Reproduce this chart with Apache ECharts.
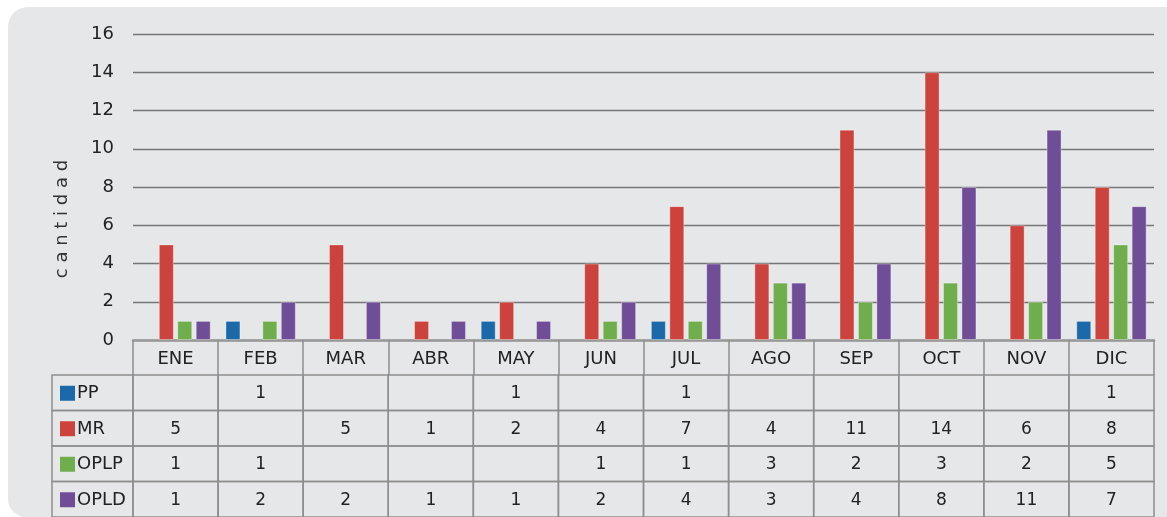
<!DOCTYPE html>
<html>
<head>
<meta charset="utf-8">
<script src="https://cdn.jsdelivr.net/npm/echarts@6/dist/echarts.min.js"></script>
<style>
  html, body { margin: 0; padding: 0; background: #fff; }
  #main { width: 1167px; height: 517px; }
</style>
</head>
<body>
<div id="main"></div>
<script>
// meses
var months = ['ENE', 'FEB', 'MAR', 'ABR', 'MAY', 'JUN', 'JUL', 'AGO', 'SEP', 'OCT', 'NOV', 'DIC']
// series (null = celda vacía)
var seriesNames = ['PP', 'MR', 'OPLP', 'OPLD']
var ppData = [null, 1, null, null, 1, null, 1, null, null, null, null, 1]
var mrData = [5, null, 5, 1, 2, 4, 7, 4, 11, 14, 6, 8]
var oplpData = [1, 1, null, null, null, 1, 1, 3, 2, 3, 2, 5]
var opldData = [1, 2, 2, 1, 1, 2, 4, 3, 4, 8, 11, 7]
var colors = ['#1b69a8', '#cc423c', '#70ad4c', '#6f4e97']
var yTicks = [0, 2, 4, 6, 8, 10, 12, 14, 16]

var allData = [ppData, mrData, oplpData, opldData]
var font = '"DejaVu Sans", sans-serif'
var lineColor = '#8e8e8e'

var myChart = echarts.init(document.getElementById('main'))

// celdas de la tabla
var cells = []
for (var r = 0; r < seriesNames.length; r++) {
  for (var c = 0; c < months.length; c++) {
    cells.push([c, r])
  }
}

function renderCell(params, api) {
  var c = api.value(0)
  var r = api.value(1)
  var center = api.coord([c, r])
  var size = api.size([1, 1])
  var w = size[0]
  var h = size[1]
  var v = allData[r][c]
  var children = [{
    type: 'rect',
    shape: { x: center[0] - w / 2, y: center[1] - h / 2, width: w, height: h },
    style: { fill: 'none', stroke: lineColor, lineWidth: 1.5 }
  }, {
    type: 'text',
    style: {
      x: center[0], y: center[1] + 1,
      text: v == null ? '' : String(v),
      align: 'center', verticalAlign: 'middle',
      font: '17px ' + font, fill: '#222'
    }
  }]
  if (c === 0) {
    // columna de leyenda
    var left = 52
    var x0 = center[0] - w / 2
    children.push({
      type: 'rect',
      shape: { x: left, y: center[1] - h / 2, width: x0 - left, height: h },
      style: { fill: 'none', stroke: lineColor, lineWidth: 1.5 }
    }, {
      type: 'rect',
      shape: { x: left + 8, y: center[1] - 7, width: 15, height: 15 },
      style: { fill: colors[r] }
    }, {
      type: 'text',
      style: {
        x: left + 25, y: center[1] + 1,
        text: seriesNames[r],
        align: 'left', verticalAlign: 'middle',
        font: '18px ' + font, fill: '#222'
      }
    })
  }
  return { type: 'group', children: children }
}

var barSeries = seriesNames.map(function(name, i) {
  return {
    name: name,
    type: 'bar',
    xAxisIndex: 0,
    yAxisIndex: 0,
    data: allData[i],
    barWidth: 15,
    barGap: '23%',
    itemStyle: {
      color: colors[i],
      borderColor: 'rgba(255,255,255,0.35)',
      borderWidth: 1
    }
  }
})

var option = {
  animation: false,
  textStyle: { fontFamily: font },
  graphic: [{
    type: 'rect',
    z: -10,
    shape: { x: 8, y: 7, width: 1200, height: 510, r: [20, 0, 0, 18] },
    style: { fill: '#e6e7e9' }
  }, {
    type: 'text',
    x: 62,
    y: 219,
    rotation: Math.PI / 2,
    style: {
      text: 'c a n t i d a d',
      font: '18px ' + font,
      fill: '#333',
      align: 'center',
      verticalAlign: 'middle'
    }
  }],
  grid: [
    { left: 133, right: 13, top: 34, height: 306 },
    { left: 133, right: 13, top: 375, height: 144 }
  ],
  xAxis: [{
    type: 'category',
    gridIndex: 0,
    data: months,
    axisLine: { lineStyle: { color: '#999', width: 2.5 } },
    axisTick: { show: true, interval: 0, length: 35, lineStyle: { color: lineColor, width: 1.5 } },
    axisLabel: { interval: 0, margin: 10, fontSize: 18, color: '#222', fontFamily: font }
  }, {
    type: 'category',
    gridIndex: 1,
    data: months,
    show: false
  }],
  yAxis: [{
    type: 'value',
    gridIndex: 0,
    min: 0,
    max: 16,
    interval: 2,
    axisLine: { show: false },
    axisTick: { show: false },
    axisLabel: {
      margin: 19, fontSize: 18, color: '#222', fontFamily: font,
      formatter: function(v) { return yTicks.indexOf(v) >= 0 ? String(v) : '' }
    },
    splitLine: { lineStyle: { color: '#767676', width: 1.3 } }
  }, {
    type: 'category',
    gridIndex: 1,
    data: seriesNames,
    inverse: true,
    show: false
  }],
  series: barSeries.concat([{
    type: 'custom',
    xAxisIndex: 1,
    yAxisIndex: 1,
    data: cells,
    encode: { x: 0, y: 1 },
    renderItem: renderCell,
    clip: false,
    silent: true
  }])
}

myChart.setOption(option)
</script>
</body>
</html>
